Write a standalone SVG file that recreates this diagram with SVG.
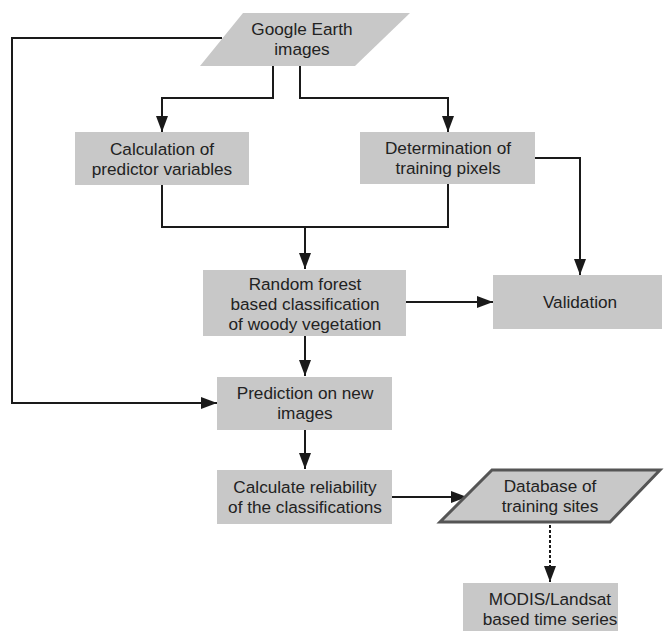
<svg xmlns="http://www.w3.org/2000/svg" width="664" height="631" viewBox="0 0 664 631">
<defs>
<style>
.box{fill:#c8c8c8;}
.db{fill:#c8c8c8;stroke:#555;stroke-width:3;}
.t{font-family:"Liberation Sans",Arial,sans-serif;font-size:17.2px;fill:#222;text-anchor:middle;}
.c{fill:none;stroke:#1a1a1a;stroke-width:2;}
.d{fill:none;stroke:#1a1a1a;stroke-width:2;stroke-dasharray:3,2;}
</style>
<marker id="ah" markerWidth="16" markerHeight="12" refX="16" refY="6" orient="auto" markerUnits="userSpaceOnUse">
<path d="M0,0 L16,6 L0,12 Z" fill="#1a1a1a"/>
</marker>
</defs>
<rect width="664" height="631" fill="#fff"/>
<g id="connectors">
<path class="c" d="M273,66 V98 H162 V132" marker-end="url(#ah)"/>
<path class="c" d="M300,66 V98 H448 V132" marker-end="url(#ah)"/>
<path class="c" d="M222,38 H12 V403 H217" marker-end="url(#ah)"/>
<path class="c" d="M162,185 V227 H448 V184"/>
<path class="c" d="M305,227 V269" marker-end="url(#ah)"/>
<path class="c" d="M535,158 H580 V275" marker-end="url(#ah)"/>
<path class="c" d="M406,302 H493" marker-end="url(#ah)"/>
<path class="c" d="M305,336 V376" marker-end="url(#ah)"/>
<path class="c" d="M305,430 V469" marker-end="url(#ah)"/>
<path class="c" d="M392,497 H467" marker-end="url(#ah)"/>
<path class="d" d="M550,525 V582" marker-end="url(#ah)"/>
</g>
<g id="google">
<polygon class="box" points="243,13 410,13 355,66 200,66"/>
<text class="t" x="302" y="35">Google Earth</text>
<text class="t" x="302" y="55">images</text>
</g>
<g id="calc">
<rect class="box" x="75" y="132" width="174" height="53"/>
<text class="t" x="162" y="155">Calculation of</text>
<text class="t" x="162" y="175">predictor variables</text>
</g>
<g id="determ">
<rect class="box" x="360" y="132" width="175" height="52"/>
<text class="t" x="448" y="154">Determination of</text>
<text class="t" x="448" y="174">training pixels</text>
</g>
<g id="rf">
<rect class="box" x="203" y="270" width="203" height="66"/>
<text class="t" x="305" y="290">Random forest</text>
<text class="t" x="305" y="310">based classification</text>
<text class="t" x="305" y="330">of woody vegetation</text>
</g>
<g id="validation">
<rect class="box" x="493" y="275" width="169" height="54"/>
<text class="t" x="580" y="308">Validation</text>
</g>
<g id="prediction">
<rect class="box" x="217" y="377" width="175" height="53"/>
<text class="t" x="305" y="399">Prediction on new</text>
<text class="t" x="305" y="419">images</text>
</g>
<g id="reliability">
<rect class="box" x="217" y="470" width="175" height="54"/>
<text class="t" x="305" y="493">Calculate reliability</text>
<text class="t" x="305" y="513">of the classifications</text>
</g>
<g id="database">
<polygon class="db" points="492,470 660,470 610,522 440,522"/>
<text class="t" x="550" y="492">Database of</text>
<text class="t" x="550" y="512">training sites</text>
</g>
<g id="modis">
<rect class="box" x="463" y="583" width="155" height="48"/>
<text class="t" x="550" y="605">MODIS/Landsat</text>
<text class="t" x="550" y="625">based time series</text>
</g>
</svg>
